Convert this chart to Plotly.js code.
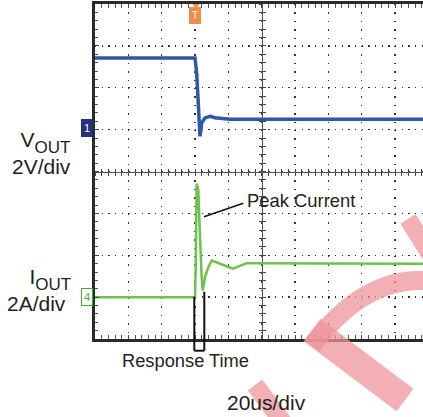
<!DOCTYPE html>
<html>
<head>
<meta charset="utf-8">
<script src="https://cdn.plot.ly/plotly-3.0.1.min.js"></script>
<style>html,body{margin:0;padding:0;background:#fff;}#chart{width:423px;height:417px;}</style>
</head>
<body>
<div id="chart"></div>
<script>
// ---- Data read from the scope capture (time in microseconds, 20 us/div) ----
const vout_time_us = [0, 60.0, 61.0, 62.0, 63.0, 64.0, 66.0, 69.0, 72.0, 81.0, 196.8];
const vout_volts   = [3.42, 3.42, 2.71, 1.11, -0.32, 0.32, 0.56, 0.64, 0.57, 0.50, 0.50];

const iout_time_us = [0, 60.0, 60.4, 61.0, 62.0, 62.6, 63.0, 64.0, 64.6, 66.0, 68.0, 70.0, 75.0, 82.8, 91.0, 196.8];
const iout_amps    = [0, 0, 1.28, 5.42, 5.10, 4.14, 2.87, 0.96, 0.32, 0.96, 1.43, 1.75, 1.60, 1.36, 1.62, 1.60];

const xRange = [0, 196.8];      // visible part of the 10-division screen
const voutRange = [-10, 6];     // 2 V/div, 8 divisions
const ioutRange = [-2, 14];     // 2 A/div, 8 divisions
const triggerTime = 60;
const centerTime = 100;

// ---- layout geometry helpers (pixel -> paper) ----
const W = 423, H = 417, ML = 95, MT = 4, MB = 78, MR = 0;
const PW = W - ML - MR, PH = H - MT - MB;
const px = x => (x - ML) / PW;
const py = y => (H - MB - y) / PH;

const FONT = 'Liberation Sans, Arial, sans-serif';
const TXT = '#231f20';
const PINK = 'rgba(238,150,155,0.75)';
const SUB = 'font-size:17px;baseline-shift:-6px';

const traces = [
  {x: vout_time_us, y: vout_volts, type: 'scatter', mode: 'lines', xaxis: 'x', yaxis: 'y',
   line: {color: '#2d58a8', width: 3.5}, hoverinfo: 'skip'},
  {x: iout_time_us, y: iout_amps, type: 'scatter', mode: 'lines', xaxis: 'x', yaxis: 'y2',
   line: {color: '#6cc24a', width: 2.5}, hoverinfo: 'skip'},
  // carriers for the centre graticule axes
  {x: [], y: [], type: 'scatter', xaxis: 'x2', yaxis: 'y'},
  {x: [], y: [], type: 'scatter', xaxis: 'x3', yaxis: 'y'},
  {x: [], y: [], type: 'scatter', xaxis: 'x', yaxis: 'y3'},
  {x: [], y: [], type: 'scatter', xaxis: 'x', yaxis: 'y4'}
];

const baseX = {range: xRange, showticklabels: false, showgrid: false, zeroline: false, fixedrange: true};
const baseY = {range: voutRange, showticklabels: false, showgrid: false, zeroline: false, fixedrange: true};

const layout = {
  width: W, height: H,
  margin: {l: ML, r: MR, t: MT, b: MB, pad: 0},
  paper_bgcolor: '#ffffff', plot_bgcolor: '#ffffff',
  showlegend: false,
  font: {family: FONT, color: TXT},
  xaxis: Object.assign({}, baseX, {
    tick0: 0, dtick: 20, showgrid: true, gridcolor: '#333', gridwidth: 1.3, griddash: '1.3px,7.1px',
    ticks: 'inside', ticklen: 4, tickcolor: '#444', tickwidth: 1,
    minor: {dtick: 4, tick0: 0, ticks: 'inside', ticklen: 3, tickcolor: '#555', showgrid: false},
    showline: true, linecolor: '#2a2a2a', linewidth: 3, mirror: 'allticks'
  }),
  yaxis: Object.assign({}, baseY, {
    tick0: 0, dtick: 2, showgrid: true, gridcolor: '#333', gridwidth: 1.3, griddash: '1.3px,5.37px',
    ticks: 'inside', ticklen: 4, tickcolor: '#444', tickwidth: 1,
    minor: {dtick: 0.4, tick0: 0, ticks: 'inside', ticklen: 3, tickcolor: '#555', showgrid: false},
    showline: true, linecolor: '#2a2a2a', linewidth: 3, mirror: false
  }),
  yaxis2: {range: ioutRange, overlaying: 'y', visible: false, fixedrange: true},
  xaxis2: Object.assign({}, baseX, {overlaying: 'x', anchor: 'free', position: 0.5, layer: 'below traces',
    dtick: 20, tick0: 0, ticks: 'outside', ticklen: 3, tickcolor: '#444',
    minor: {dtick: 4, tick0: 0, ticks: 'outside', ticklen: 3, tickcolor: '#444'},
    showline: true, linecolor: '#555', linewidth: 1}),
  xaxis3: Object.assign({}, baseX, {overlaying: 'x', anchor: 'free', position: 0.5, layer: 'below traces',
    dtick: 20, tick0: 0, ticks: 'inside', ticklen: 3, tickcolor: '#444',
    minor: {dtick: 4, tick0: 0, ticks: 'inside', ticklen: 3, tickcolor: '#444'},
    showline: false}),
  yaxis3: Object.assign({}, baseY, {overlaying: 'y', anchor: 'free', position: centerTime / xRange[1], layer: 'below traces',
    dtick: 2, tick0: 0, ticks: 'outside', ticklen: 3, tickcolor: '#444',
    minor: {dtick: 0.4, tick0: 0, ticks: 'outside', ticklen: 3, tickcolor: '#444'},
    showline: true, linecolor: '#555', linewidth: 1}),
  yaxis4: Object.assign({}, baseY, {overlaying: 'y', anchor: 'free', position: centerTime / xRange[1], layer: 'below traces',
    dtick: 2, tick0: 0, ticks: 'inside', ticklen: 3, tickcolor: '#444',
    minor: {dtick: 0.4, tick0: 0, ticks: 'inside', ticklen: 3, tickcolor: '#444'},
    showline: false}),
  shapes: [
    // watermark strokes (approximate)
    {type: 'path', xref: 'paper', yref: 'paper', layer: 'above',
     path: `M ${px(312)} ${py(346)} Q ${px(365)} ${py(275)} ${px(430)} ${py(281)}`,
     line: {color: PINK, width: 19}},
    {type: 'line', xref: 'paper', yref: 'paper', layer: 'above',
     x0: px(312), y0: py(330), x1: px(405), y1: py(400), line: {color: PINK, width: 28}},
    {type: 'line', xref: 'paper', yref: 'paper', layer: 'above',
     x0: px(255), y0: py(385), x1: px(285), y1: py(425), line: {color: PINK, width: 18}},
    {type: 'line', xref: 'paper', yref: 'paper', layer: 'above',
     x0: px(408), y0: py(219), x1: px(430), y1: py(254), line: {color: PINK, width: 18}},
    // Peak current leader
    {type: 'line', xref: 'paper', yref: 'paper', x0: px(204), y0: py(216.7), x1: px(243.3), y1: py(203.3),
     line: {color: '#111', width: 1.5}},
    // Response time bracket
    {type: 'line', xref: 'paper', yref: 'paper', x0: px(194.3), y0: py(296.7), x1: px(194.3), y1: py(350.7),
     line: {color: '#111', width: 2}},
    {type: 'line', xref: 'paper', yref: 'paper', x0: px(204.3), y0: py(291.7), x1: px(204.3), y1: py(350.7),
     line: {color: '#111', width: 2}},
    {type: 'line', xref: 'paper', yref: 'paper', x0: px(194.3), y0: py(350.7), x1: px(204.3), y1: py(350.7),
     line: {color: '#111', width: 2}},
    // trigger pointer
    {type: 'path', xref: 'paper', yref: 'paper',
     path: `M ${px(192.5)} ${py(4)} L ${px(199.5)} ${py(4)} L ${px(196)} ${py(8.5)} Z`,
     fillcolor: '#f28a48', line: {width: 0}}
  ],
  annotations: [
    {xref: 'paper', yref: 'paper', x: px(72.5), y: py(153), xanchor: 'right', yanchor: 'middle', align: 'right',
     text: `V<span style="${SUB}">OUT</span><br>2V/div`,
     showarrow: false, font: {size: 21, family: FONT, color: TXT}},
    {xref: 'paper', yref: 'paper', x: px(72.5), y: py(290), xanchor: 'right', yanchor: 'middle', align: 'right',
     text: `I<span style="${SUB}">OUT</span><br>2A/div&nbsp;`,
     showarrow: false, font: {size: 21, family: FONT, color: TXT}},
    {xref: 'paper', yref: 'paper', x: px(244.5), y: py(200.7), xanchor: 'left', yanchor: 'middle', text: 'Peak Current',
     showarrow: false, font: {size: 18.4, family: FONT, color: TXT}},
    {xref: 'paper', yref: 'paper', x: px(185.8), y: py(360.5), xanchor: 'center', yanchor: 'middle', text: 'Response Time',
     showarrow: false, font: {size: 18.3, family: FONT, color: TXT}},
    {xref: 'paper', yref: 'paper', x: px(266.7), y: py(402.5), xanchor: 'center', yanchor: 'middle', text: '20us/div',
     showarrow: false, font: {size: 21, family: FONT, color: TXT}},
    // channel markers
    {xref: 'paper', yref: 'y', x: px(92.5), y: 0.1, xanchor: 'right', yanchor: 'middle', text: '1',
     showarrow: false, bgcolor: '#24327e', bordercolor: '#24327e', borderwidth: 1, borderpad: 2,
     font: {size: 11, family: FONT, color: '#ffffff'}},
    {xref: 'paper', yref: 'y2', x: px(92.5), y: 0, xanchor: 'right', yanchor: 'middle', text: '4',
     showarrow: false, bgcolor: '#ffffff', bordercolor: '#3fae3a', borderwidth: 1, borderpad: 2,
     font: {size: 11, family: FONT, color: '#3fae3a'}},
    {xref: 'x', yref: 'paper', x: triggerTime, y: py(15), xanchor: 'center', yanchor: 'middle', text: 'T',
     showarrow: false, bgcolor: '#f28a48', bordercolor: '#f28a48', borderwidth: 1, borderpad: 2,
     font: {size: 10, family: FONT, color: '#ffffff'}}
  ]
};

Plotly.newPlot('chart', traces, layout, {staticPlot: true, displayModeBar: false});
</script>
</body>
</html>
